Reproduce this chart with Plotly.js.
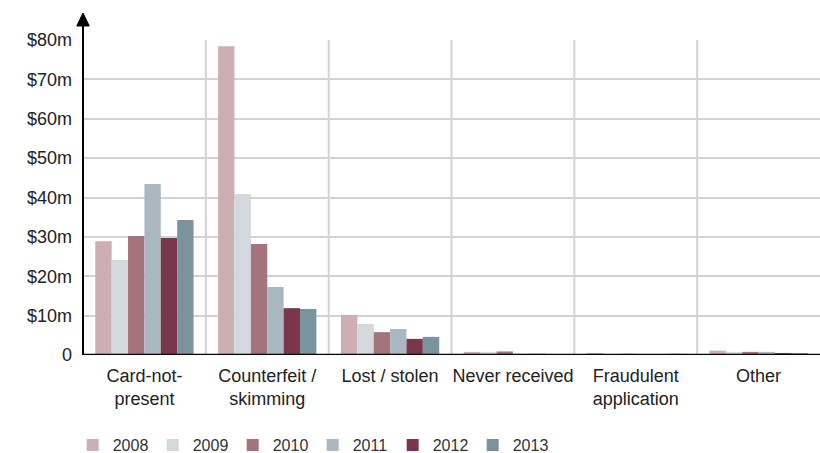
<!DOCTYPE html>
<html><head><meta charset="utf-8">
<script src="https://cdn.plot.ly/plotly-3.0.1.min.js"></script>
<style>body{margin:0;background:#fff}#c{width:820px;height:453px}</style>
</head><body><div id="c"></div>
<script>
const categories = ["Card-not-<br>present", "Counterfeit /<br>skimming", "Lost / stolen", "Never received", "Fraudulent<br>application", "Other"];
const years = ["2008", "2009", "2010", "2011", "2012", "2013"];
const v2008 = [28.9, 78.4, 10.2, 0.8, 0.5, 1.1];
const v2009 = [24.1, 40.9, 7.9, 0.8, 0.2, 0.8];
const v2010 = [30.2, 28.2, 5.8, 0.9, 0.3, 0.8];
const v2011 = [43.4, 17.3, 6.6, 0.3, 0.2, 0.8];
const v2012 = [29.7, 11.9, 4.1, 0.3, 0.2, 0.5];
const v2013 = [34.3, 11.7, 4.6, 0.2, 0.3, 0.5];
const tickVals = [0, 10, 20, 30, 40, 50, 60, 70, 80];
const tickText = ["0", "$10m", "$20m", "$30m", "$40m", "$50m", "$60m", "$70m", "$80m"];
const colors = ["#cdaeb3", "#d3d8dc", "#a3747c", "#a9b7be", "#7b364c", "#7b939e"];
const series = [v2008, v2009, v2010, v2011, v2012, v2013];

const data = series.map((s, i) => ({
  type: "bar", name: years[i], x: categories, y: s,
  marker: {color: colors[i], line: {width: 0}}, hoverinfo: "none"
}));

const shapes = [];
for (let i = 0; i < categories.length - 1; i++) {
  shapes.push({type: "line", xref: "x", yref: "paper", x0: i + 0.5, x1: i + 0.5, y0: 0, y1: 1,
    line: {color: "#d2d2d2", width: 2}, layer: "below"});
}
shapes.push({type: "line", xref: "paper", yref: "paper", x0: 0, x1: 0, y0: 0, y1: 1.05, line: {color: "#000", width: 2}});
shapes.push({type: "path", xref: "paper", yref: "paper",
  path: "M -0.0085 1.0444 L 0.0085 1.0444 L 0 1.0857 Z", fillcolor: "#000", line: {color: "#000", width: 1}});
shapes.push({type: "line", xref: "paper", yref: "y", x0: 0, x1: 1, y0: 0, y1: 0, line: {color: "#000", width: 2.5}});

const layout = {
  width: 820, height: 453,
  margin: {l: 83, r: 0, t: 40, b: 98, autoexpand: false},
  paper_bgcolor: "#fff", plot_bgcolor: "#fff",
  font: {family: "Liberation Sans, Arial, sans-serif", color: "#222"},
  barmode: "group", bargap: 0.2, bargroupgap: 0,
  showlegend: true,
  legend: {orientation: "h", x: -0.014, xanchor: "left", y: -0.286, yanchor: "middle",
    font: {size: 16, color: "#333"}, entrywidth: 35, entrywidthmode: "pixels", traceorder: "normal"},
  xaxis: {type: "category", showgrid: false, zeroline: false, showline: false, ticks: "",
    tickfont: {size: 18, color: "#222"}, ticklabelstandoff: 8, fixedrange: true, automargin: false},
  yaxis: {range: [0, 80], tickvals: tickVals, ticktext: tickText, showgrid: true,
    gridcolor: "#d2d2d2", gridwidth: 2, zeroline: false, showline: false, ticks: "",
    tickfont: {size: 18, color: "#222"}, ticklabelstandoff: 10, fixedrange: true, automargin: false},
  shapes: shapes
};
Plotly.newPlot("c", data, layout, {displayModeBar: false, staticPlot: true});
</script></body></html>
